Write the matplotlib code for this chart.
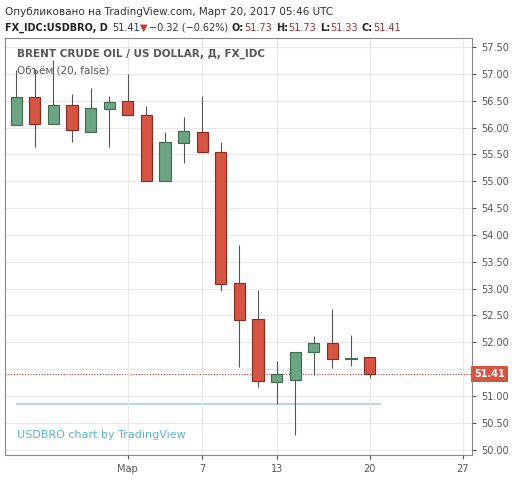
import matplotlib.pyplot as plt
from matplotlib.patches import Rectangle

plt.rcParams['font.family'] = ['DejaVu Sans']

# daily OHLC, Feb 21 .. Mar 20 2017 (trading days)
opens = [56.05, 56.57, 56.07, 56.43, 55.92, 56.35, 56.49, 56.23, 55.00, 55.72,
         55.92, 55.54, 53.10, 52.43, 51.26, 51.29, 51.82, 51.99, 51.69, 51.73]
highs = [57.07, 57.10, 57.26, 56.62, 56.73, 56.59, 57.00, 56.41, 55.91, 56.20,
         56.59, 55.73, 53.81, 52.97, 51.65, 51.82, 52.11, 52.62, 52.13, 51.73]
lows = [56.05, 55.64, 56.07, 55.74, 55.92, 55.63, 56.23, 55.00, 55.00, 55.35,
        55.54, 52.96, 51.54, 51.17, 50.85, 50.27, 51.39, 51.52, 51.55, 51.33]
closes = [56.57, 56.07, 56.43, 55.95, 56.36, 56.47, 56.23, 55.00, 55.74, 55.94,
          55.54, 53.09, 52.42, 51.27, 51.40, 51.82, 51.99, 51.68, 51.70, 51.41]
tick_pos = [6, 10, 14, 19, 24]
tick_labels = ['Мар', '7', '13', '20', '27']
last_price = 51.41
volume_line = 50.85

UP, UP_E = '#6ba583', '#3d6b50'
DN, DN_E = '#d75442', '#8a2a1e'

fig = plt.figure(figsize=(5.12, 4.8), dpi=100)
ax = fig.add_axes([5 / 512, 25 / 480, 467 / 512, 417 / 480])

for i, (o, h, l, c) in enumerate(zip(opens, highs, lows, closes)):
    up = c >= o
    ax.vlines(i, l, h, color='#555555', lw=0.8, zorder=2)
    bot, height = min(o, c), max(abs(c - o), 0.02)
    ax.add_patch(Rectangle((i - 0.3, bot), 0.6, height,
                           facecolor=UP if up else DN,
                           edgecolor=UP_E if up else DN_E, lw=0.8, zorder=3))

ax.axhline(last_price, color='#c0392b', lw=0.8, ls=(0, (1, 1.5)), zorder=1)
ax.hlines(volume_line, 0, 19.6, color='#b8d8de', lw=1.5, zorder=1)

ax.set_xlim(-0.6, 24.5)
ax.set_ylim(49.9, 57.67)
ax.yaxis.tick_right()
yt = [50 + 0.5 * k for k in range(16)]
ax.set_yticks(yt)
ax.set_yticklabels(['' if v == 51.5 else f'{v:.2f}' for v in yt])
ax.set_xticks(tick_pos)
ax.set_xticklabels(tick_labels)
ax.tick_params(labelsize=7, colors='#555555', length=3)
ax.grid(True, color='#e8e8e8', lw=0.8, zorder=0)
for s in ax.spines.values():
    s.set_color('#888888')

ax.text(1.005, last_price, f'{last_price:.2f}',
        transform=ax.get_yaxis_transform(), fontsize=7, color='white',
        va='center', ha='left', fontweight='bold', clip_on=False,
        bbox=dict(boxstyle='square,pad=0.3', fc='#d75442', ec='none'))

ax.text(0.025, 0.975, 'BRENT CRUDE OIL / US DOLLAR, Д, FX_IDC', transform=ax.transAxes,
        fontsize=7.5, color='#555555', va='top', fontweight='bold')
ax.text(0.025, 0.935, 'Объём (20, false)', transform=ax.transAxes,
        fontsize=7.5, color='#555555', va='top')
ax.text(0.025, 0.035, 'USDBRO chart by TradingView', transform=ax.transAxes,
        fontsize=8, color='#5bb5d5', va='bottom')

fig.text(5 / 512, 1 - 12 / 480, 'Опубликовано на TradingView.com, Март 20, 2017 05:46 UTC',
         fontsize=7.5, color='#333333', va='center')

# second header line: place pieces one after another
hdr = [('FX_IDC:USDBRO, D', '#222222', 'bold', 4),
       ('51.41', '#333333', 'normal', 1),
       ('▼', '#c0392b', 'normal', 1),
       ('−0.32 (−0.62%)', '#333333', 'normal', 4),
       ('O:', '#222222', 'bold', 0), ('51.73', '#a03030', 'normal', 4),
       ('H:', '#222222', 'bold', 0), ('51.73', '#a03030', 'normal', 4),
       ('L:', '#222222', 'bold', 0), ('51.33', '#a03030', 'normal', 4),
       ('C:', '#222222', 'bold', 0), ('51.41', '#a03030', 'normal', 0)]
renderer = fig.canvas.get_renderer()
x = 5
for txt, col, wt, gap in hdr:
    t = fig.text(x / 512, 1 - 28 / 480, txt, fontsize=7, va='center', color=col, fontweight=wt)
    x += t.get_window_extent(renderer).width + gap

fig.savefig('out.png', dpi=100)
